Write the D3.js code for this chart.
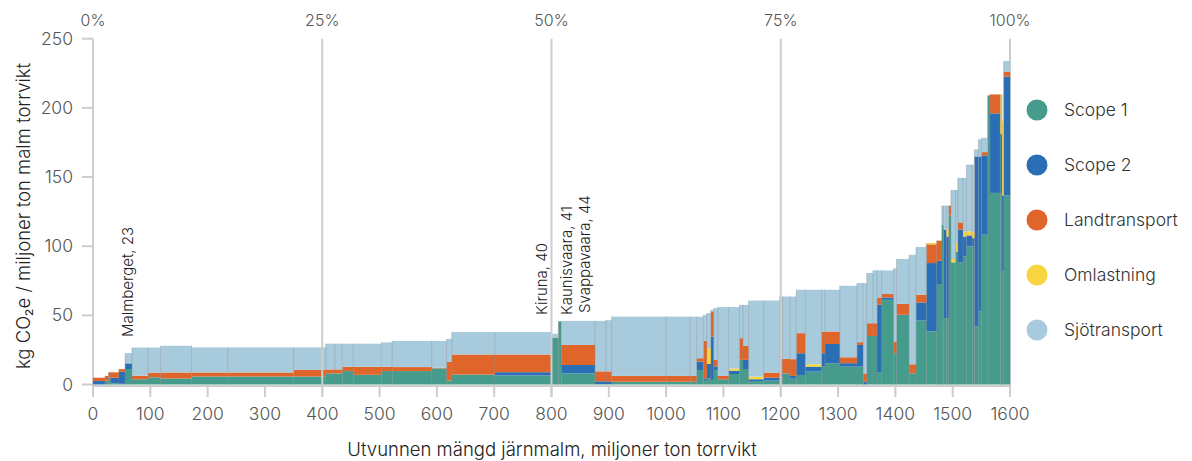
<!DOCTYPE html>
<html>
<head>
<meta charset="utf-8">
<script src="https://cdn.jsdelivr.net/npm/d3@7"></script>
<style>
  body { margin: 0; background: #fff; }
  svg { font-family: Inter, "Noto Sans", sans-serif; font-weight: 300; }
</style>
</head>
<body>
<div id="chart"></div>
<script>
// Produced quantity per mine (million tonnes, dry weight), left to right
const widths = [21, 6, 4, 14, 11, 12, 28, 22, 54, 63, 115, 56, 16, 13, 19, 49, 19, 69, 26, 9,
  75, 99, 12, 5, 59, 19, 10, 95, 42, 11, 12, 6, 7, 5, 7, 19, 19, 6, 10, 26,
  28, 5, 13, 11, 16, 28, 6, 26, 30, 11, 6, 11, 7, 8, 21, 5, 22, 12, 18, 18,
  9, 3, 5, 4, 4, 8, 4, 9, 6, 10, 4, 7, 5, 11, 4, 18, 3, 3, 11]

// kg CO2e per tonne, one value per mine in each series
const scope1 = [0, 2.8, 4.9, 0.9, 0.5, 11.2, 3.8, 5.2, 4.4, 5.8, 5.8, 5.8, 8.0, 8.0, 9.7, 7.0, 9.7, 9.7, 11.6, 2.9,
  7.2, 6.5, 33.9, 45.7, 8.1, 0.3, 0.3, 2.0, 2.0, 2.0, 10.5, 3.3, 4.5, 3.3, 10.5, 3.8, 7.6, 17.8, 11.2, 2.5,
  2.8, 5.7, 8.1, 4.2, 6.9, 9.3, 12.9, 15.4, 12.9, 12.9, 0, 35.1, 35.1, 8.6, 61.2, 22.6, 50.4, 8.1, 46.2, 38.3,
  72.1, 115.6, 48.0, 48.0, 122.3, 88.3, 96.2, 88.3, 92.6, 99.8, 99.8, 41.9, 52.8, 108.3, 209.0, 138.5, 138.0, 81.7, 136.6]
const scope2 = [2.5, 0, 0, 4.0, 8.6, 4.1, 0, 0, 0, 0, 0, 0, 0, 0, 0, 0, 0, 0, 0, 0,
  0, 2.4, 0, 0, 6.0, 2.0, 2.0, 0, 0, 0, 6.0, 1.2, 10.4, 31.3, 2.4, 0, 2.4, 0, 6.6, 1.3,
  2.1, 2.4, 0, 2.0, 15.7, 3.6, 9.7, 13.9, 2.5, 15.7, 2.0, 0, 0, 49.0, 1.7, 0, 0, 0, 13.1, 49.5,
  17.4, 0, 64.0, 59.0, 0, 0, 0, 23.7, 14.4, 8.0, 6.0, 123.0, 112.0, 57.3, 0, 57.5, 43.0, 55.0, 86.0]
const landtransport = [2.4, 3.4, 3.9, 3.9, 2.0, 0, 2.6, 3.3, 4.3, 2.9, 2.9, 4.8, 2.9, 2.9, 3.1, 5.8, 3.1, 2.9, 0.5, 13.5,
  14.5, 12.8, 0, 0, 14.5, 7.2, 7.2, 4.2, 4.2, 4.2, 2.5, 27.0, 0, 18.2, 4.9, 2.4, 0, 15.7, 10.1, 0,
  3.7, 10.4, 10.4, 12.1, 14.5, 0, 15.7, 9.0, 4.3, 2.0, 6.0, 9.2, 9.2, 5.3, 2.5, 8.4, 7.9, 6.5, 5.6, 13.5,
  14.5, 0, 0, 0, 7.0, 0, 0, 5.2, 0, 0, 0, 0, 0, 2.4, 0, 13.7, 0, 0, 3.3]
const omlastning = [0, 0, 0, 0, 0, 0, 0, 0, 0, 0, 0, 0, 0, 0, 0, 0, 0, 0, 0, 0,
  0, 0, 0, 0, 0, 0, 0, 0, 0, 0, 0, 0, 11.3, 0, 0, 0, 1.5, 0, 0, 1.9,
  0, 0, 0, 0, 0, 1.7, 0, 0, 0, 0, 0, 0, 0, 0, 0, 0, 0, 0, 0, 1.0,
  0, 0, 0, 5.4, 0, 2.4, 6.5, 0, 3.7, 3.0, 4.4, 0, 0, 0, 0, 0, 28.7, 53.7, 0]
const sjotransport = [0, 0, 0, 0, 0, 7.4, 20.3, 18.2, 19.3, 18.1, 18.1, 16.2, 18.6, 18.6, 16.7, 16.7, 17.6, 18.9, 19.4, 16.6,
  16.2, 16.2, 2.8, 0, 17.4, 36.5, 37.0, 42.9, 42.9, 42.8, 30.0, 18.9, 25.4, 1.2, 37.4, 49.8, 44.5, 24.1, 29.7, 55.0,
  52.1, 45.1, 45.1, 45.3, 31.4, 53.9, 30.2, 30.2, 51.7, 42.7, 65.3, 36.3, 38.2, 19.6, 17.1, 53.0, 32.4, 79.2, 34.5, 0,
  0, 13.7, 17.3, 16.9, 0, 50.0, 38.0, 32.2, 38.7, 48.2, 48.8, 5.0, 12.4, 10.3, 0, 0, 0, 0, 8.0]

const seriesNames = ['Scope 1', 'Scope 2', 'Landtransport', 'Omlastning', 'Sjötransport']
const colors = ['#459b8c', '#2a6eb5', '#e0652b', '#f8d43f', '#a7cbdc']

const xTicks = [0, 100, 200, 300, 400, 500, 600, 700, 800, 900, 1000, 1100, 1200, 1300, 1400, 1500, 1600]
const yTicks = [0, 50, 100, 150, 200, 250]
const shareTicks = [0, 0.25, 0.5, 0.75, 1]

// Named mines: label text, position on x (Mt) and label foot on y (kg)
const notes = [
  { text: 'Malmberget, 23', x: 61, y: 34.3 },
  { text: 'Kiruna, 40', x: 783, y: 50.3 },
  { text: 'Kaunisvaara, 41', x: 826.5, y: 50.3 },
  { text: 'Svappavaara, 44', x: 858.5, y: 51.7 }
]

const W = 1192, H = 461
const svg = d3.select('#chart').append('svg').attr('width', W).attr('height', H)

const x = d3.scaleLinear().domain([0, 1600]).range([93, 1010])
const y = d3.scaleLinear().domain([0, 250]).range([384.5, 38.7])

// build table with cumulative x positions
const ends = d3.cumsum(widths)
const rows = widths.map((w, i) => ({
  x0: ends[i] - w,
  x1: ends[i],
  'Scope 1': scope1[i],
  'Scope 2': scope2[i],
  'Landtransport': landtransport[i],
  'Omlastning': omlastning[i],
  'Sjötransport': sjotransport[i]
}))
const stacked = d3.stack().keys(seriesNames)(rows)
const total = rows.map(r => d3.sum(seriesNames, k => r[k]))

const grid = '#cdcdcd'
const tickColor = '#555'

// frame lines at 0% and 100%
svg.append('g').selectAll('line').data([0, 1]).join('line')
  .attr('x1', d => x(d * 1600)).attr('x2', d => x(d * 1600))
  .attr('y1', y(250)).attr('y2', 397)
  .attr('stroke', grid).attr('stroke-width', 2)

// stacked bars
const layers = svg.append('g').selectAll('g').data(stacked).join('g')
  .attr('fill', (d, i) => colors[i])
layers.selectAll('rect').data(d => d).join('rect')
  .attr('x', d => x(d.data.x0))
  .attr('width', d => x(d.data.x1) - x(d.data.x0) + 0.2)
  .attr('y', d => y(d[1]))
  .attr('height', d => Math.max(0, y(d[0]) - y(d[1])))

// thin separators between mines
svg.append('g').selectAll('line').data(rows.slice(1)).join('line')
  .attr('x1', d => x(d.x0)).attr('x2', d => x(d.x0))
  .attr('y1', y(0)).attr('y2', (d, i) => y(Math.max(total[i], total[i + 1])))
  .attr('stroke', '#8c8c8c').attr('stroke-opacity', 0.4).attr('stroke-width', 1)

// 25/50/75% grid lines drawn over the bars
svg.append('g').selectAll('line').data(shareTicks.slice(1, 4)).join('line')
  .attr('x1', d => x(d * 1600)).attr('x2', d => x(d * 1600))
  .attr('y1', y(250)).attr('y2', 397)
  .attr('stroke', grid).attr('stroke-width', 2)

// x axis
const xAxis = svg.append('g')
xAxis.append('line')
  .attr('x1', x(0)).attr('x2', x(1600)).attr('y1', 386).attr('y2', 386)
  .attr('stroke', grid).attr('stroke-width', 2)
xAxis.selectAll('.tick').data(xTicks).join('line')
  .attr('x1', d => x(d)).attr('x2', d => x(d)).attr('y1', 386).attr('y2', 397)
  .attr('stroke', grid).attr('stroke-width', 2)
xAxis.selectAll('text').data(xTicks).join('text')
  .attr('x', d => x(d)).attr('y', 420)
  .attr('text-anchor', 'middle')
  .style('font-size', '17.5px').style('fill', tickColor)
  .text(d => d)

// y axis
const yAxis = svg.append('g')
yAxis.selectAll('line').data(yTicks).join('line')
  .attr('x1', 82).attr('x2', 93).attr('y1', d => y(d)).attr('y2', d => y(d))
  .attr('stroke', grid).attr('stroke-width', 2)
yAxis.selectAll('text').data(yTicks).join('text')
  .attr('x', 73).attr('y', d => y(d)).attr('dy', '0.35em')
  .attr('text-anchor', 'end')
  .style('font-size', '17.5px').style('fill', tickColor)
  .text(d => d)

// top share axis
svg.append('g').selectAll('text').data(shareTicks).join('text')
  .attr('x', d => x(d * 1600)).attr('y', 26)
  .attr('text-anchor', 'middle')
  .style('font-size', '16px').style('fill', tickColor)
  .text(d => d3.format('.0%')(d))

// axis titles
svg.append('text')
  .attr('transform', 'translate(24,216) rotate(-90)')
  .attr('text-anchor', 'middle').attr('dy', '0.35em')
  .style('font-size', '18.5px').style('fill', '#222')
  .text('kg CO₂e / miljoner ton malm torrvikt')
svg.append('text')
  .attr('x', 552).attr('y', 456)
  .attr('text-anchor', 'middle')
  .style('font-size', '18.5px').style('fill', '#222')
  .text('Utvunnen mängd järnmalm, miljoner ton torrvikt')

// mine labels
svg.append('g').selectAll('text').data(notes).join('text')
  .attr('transform', d => `translate(${x(d.x)},${y(d.y)}) rotate(-90)`)
  .attr('dy', '0.35em')
  .style('font-size', '15px').style('fill', '#222')
  .text(d => d.text)

// legend
const legend = svg.append('g').selectAll('g').data(seriesNames).join('g')
  .attr('transform', (d, i) => `translate(1037,${110 + i * 55})`)
legend.append('circle').attr('r', 10.5).attr('fill', (d, i) => colors[i])
legend.append('text')
  .attr('x', 27).attr('dy', '0.35em')
  .style('font-size', '17.5px').style('fill', '#333')
  .text(d => d)
</script>
</body>
</html>
